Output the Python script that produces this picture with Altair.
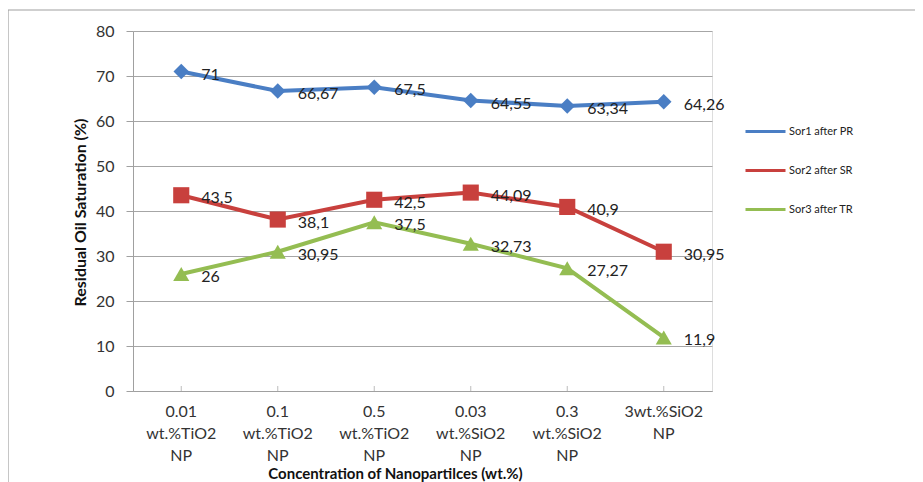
import altair as alt
import pandas as pd

categories = ["0.01|wt.%TiO2|NP", "0.1|wt.%TiO2|NP", "0.5|wt.%TiO2|NP",
              "0.03|wt.%SiO2|NP", "0.3|wt.%SiO2|NP", "3wt.%SiO2|NP"]
series = ["Sor1 after PR", "Sor2 after SR", "Sor3 after TR"]
sor1 = [71, 66.67, 67.5, 64.55, 63.34, 64.26]
sor2 = [43.5, 38.1, 42.5, 44.09, 40.9, 30.95]
sor3 = [26, 30.95, 37.5, 32.73, 27.27, 11.9]
colors = ["#4A7EC4", "#C8403D", "#94BD52"]
shapes = ["diamond", "square", "triangle-up"]
marker_sizes = [240, 260, 260]

rows = []
for name, vals in zip(series, [sor1, sor2, sor3]):
    for c, v in zip(categories, vals):
        rows.append({"cat": c, "series": name, "value": v,
                     "label": ("%g" % v).replace(".", ",")})
df = pd.DataFrame(rows)

FONT = "Lato"

x = alt.X("cat:N", sort=categories, scale=alt.Scale(paddingOuter=0.25, paddingInner=0.5),
          axis=alt.Axis(title="Concentration  of Nanopartilces  (wt.%)",
                        labelExpr="split(datum.label, '|')", labelAngle=0,
                        labelFontSize=16, labelFont=FONT, labelColor="#333333",
                        labelLineHeight=22, labelPadding=12, labelBaseline="top",
                        ticks=False, domainColor="#a0a0a0",
                        titleFont=FONT, titleFontSize=15, titleFontWeight="bold",
                        titleColor="#111111", titleX=262, titleY=82,
                        titleAnchor="middle", titleAlign="center", titleBaseline="middle"))
y = alt.Y("value:Q", scale=alt.Scale(domain=[0, 80], nice=False),
          axis=alt.Axis(title="Residual Oil Saturation  (%)", values=list(range(0, 81, 10)),
                        labelFontSize=16, labelFont=FONT, labelColor="#333333",
                        labelPadding=12, tickSize=7, tickColor="#a0a0a0",
                        domainColor="#a0a0a0", gridColor="#a6a6a6",
                        titleFont=FONT, titleFontSize=16, titleFontWeight="bold",
                        titleColor="#111111", titleX=-53, titleY=181,
                        titleAnchor="middle", titleAlign="center", titleBaseline="middle",
                        titleAngle=270))
color = alt.Color("series:N", scale=alt.Scale(domain=series, range=colors),
                  legend=alt.Legend(title=None, orient="none", legendX=611, legendY=79,
                                    symbolType="stroke", symbolSize=1600,
                                    symbolStrokeWidth=3, labelFontSize=11,
                                    labelFont=FONT, labelColor="#222222",
                                    rowPadding=11, labelOffset=2))

base = alt.Chart(df)

border = alt.Chart(pd.DataFrame({"a": [0]})).mark_rect(
    fill=None, stroke="#a0a0a0", strokeWidth=1.2).encode(
    x=alt.value(-125), x2=alt.value(800), y=alt.value(-21), y2=alt.value(520))

lines = base.mark_line(strokeWidth=4).encode(x=x, y=y, color=color)

point_layers = []
for name, col, shp, sz in zip(series, colors, shapes, marker_sizes):
    point_layers.append(
        base.transform_filter(alt.datum.series == name)
        .mark_point(filled=True, opacity=1, size=sz, shape=shp, color=col)
        .encode(x=x, y=y)
    )

labels = base.mark_text(align="left", baseline="middle", dx=20, dy=3,
                        fontSize=16, font=FONT, color="#222222").encode(
    x=x, y=y, text="label:N")

xticks = alt.Chart(pd.DataFrame({"cat": categories})).mark_tick(
    color="#a0a0a0", size=5, thickness=1, orient="vertical", yOffset=-2.5).encode(
    x=alt.X("cat:N", sort=categories), y=alt.datum(0))

chart = alt.layer(border, lines, *point_layers, labels, xticks).properties(
    width=579, height=360,
    autosize=alt.AutoSizeParams(type="none"),
    padding={"left": 125, "top": 23, "right": 203, "bottom": 91}
).configure_view(stroke=None).configure(background="white")

chart.save("out.html", embed_options={"renderer": "svg", "actions": False})
